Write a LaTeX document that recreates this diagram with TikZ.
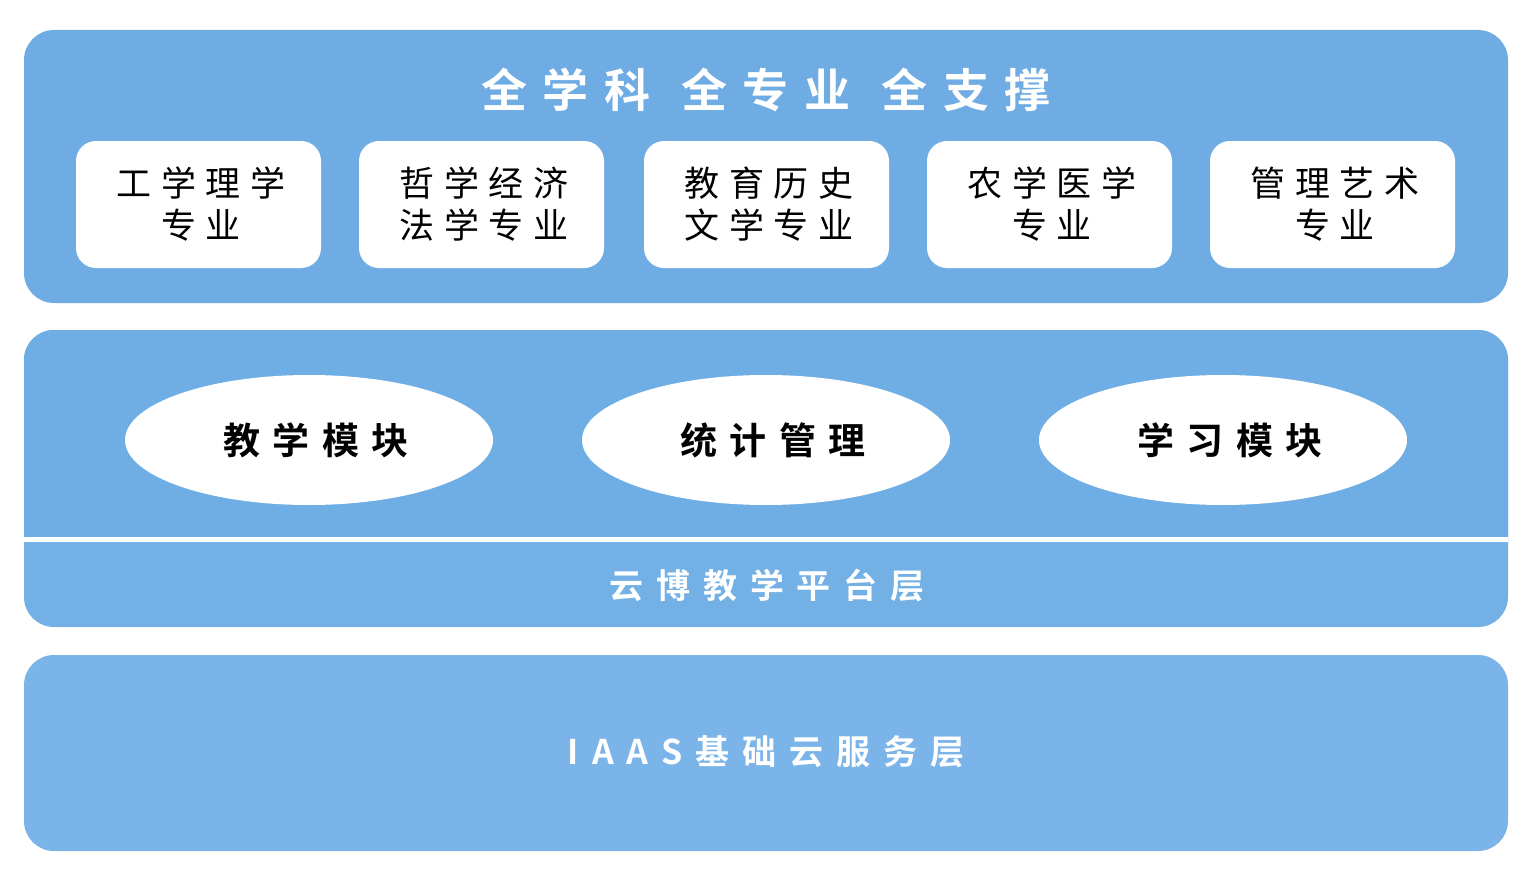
\documentclass[tikz,border=0pt]{standalone}
\usepackage{fontspec}
\newfontfamily\cjk[LetterSpace=28]{Noto Sans CJK SC}
\newfontfamily\cjkb[LetterSpace=34]{Noto Sans CJK SC Bold}
\newfontfamily\cjkt[LetterSpace=34]{Noto Sans CJK SC Bold}
\newfontfamily\cjkl[LetterSpace=38]{Noto Sans CJK SC Bold}
\definecolor{topblue}{HTML}{6FACE3}
\definecolor{midblue}{HTML}{6FAEE4}
\definecolor{midblueb}{HTML}{72B0E5}
\definecolor{botblue}{HTML}{7AB4E8}
\tikzset{
  panel/.style={rounded corners=30pt, draw=none},
  subject/.style={rectangle, rounded corners=20pt, fill=white, minimum width=245pt, minimum height=127pt, align=center, font=\cjk\fontsize{35}{42}\selectfont, text=black, inner sep=0pt},
  module/.style={ellipse, fill=white, minimum width=368pt, minimum height=130pt, inner sep=0pt, font=\cjkb\fontsize{37}{40}\selectfont, text=black},
  whitetitle/.style={font=\cjkt\fontsize{46}{50}\selectfont, text=white, inner sep=0pt},
  layerlabel/.style={font=\cjkl\fontsize{34}{40}\selectfont, text=white, inner sep=0pt}
}
\usetikzlibrary{shapes.geometric}
\begin{document}
\begin{tikzpicture}[x=1pt,y=-1pt]
\useasboundingbox (0,0) rectangle (1535,875);
% top panel
\fill[topblue, panel] (24,30) rectangle (1508,303);
% middle panel
\fill[midblueb, panel] (24,330) rectangle (1508,627);
\begin{scope}
  \clip (0,0) rectangle (1535,537);
  \fill[midblue, panel] (24,330) rectangle (1508,627);
\end{scope}
\fill[white] (24,537) rectangle (1508,542);
% bottom panel
\fill[botblue, panel] (24,655) rectangle (1508,851);

\node[whitetitle] (title) at (766,90) {全学科\hspace{31pt}全专业\hspace{31pt}全支撑};

\node[subject] (s1) at (198.5,204.5) {\hspace{5pt}工学理学\\\hspace{5pt}专业};
\node[subject] (s2) at (481.5,204.5) {\hspace{5pt}哲学经济\\\hspace{5pt}法学专业};
\node[subject] (s3) at (766.5,204.5) {\hspace{5pt}教育历史\\\hspace{5pt}文学专业};
\node[subject] (s4) at (1049.5,204.5) {\hspace{5pt}农学医学\\\hspace{5pt}专业};
\node[subject] (s5) at (1332.5,204.5) {\hspace{5pt}管理艺术\\\hspace{5pt}专业};

\node[module] (m1) at (309,440) {\hspace{14pt}教学模块};
\node[module] (m2) at (766,440) {\hspace{14pt}统计管理};
\node[module] (m3) at (1223,440) {\hspace{14pt}学习模块};

\node[layerlabel] (platform) at (767,585) {云博教学平台层};
\node[layerlabel] (iaas) at (766,752) {IAAS基础云服务层};
\end{tikzpicture}
\end{document}
